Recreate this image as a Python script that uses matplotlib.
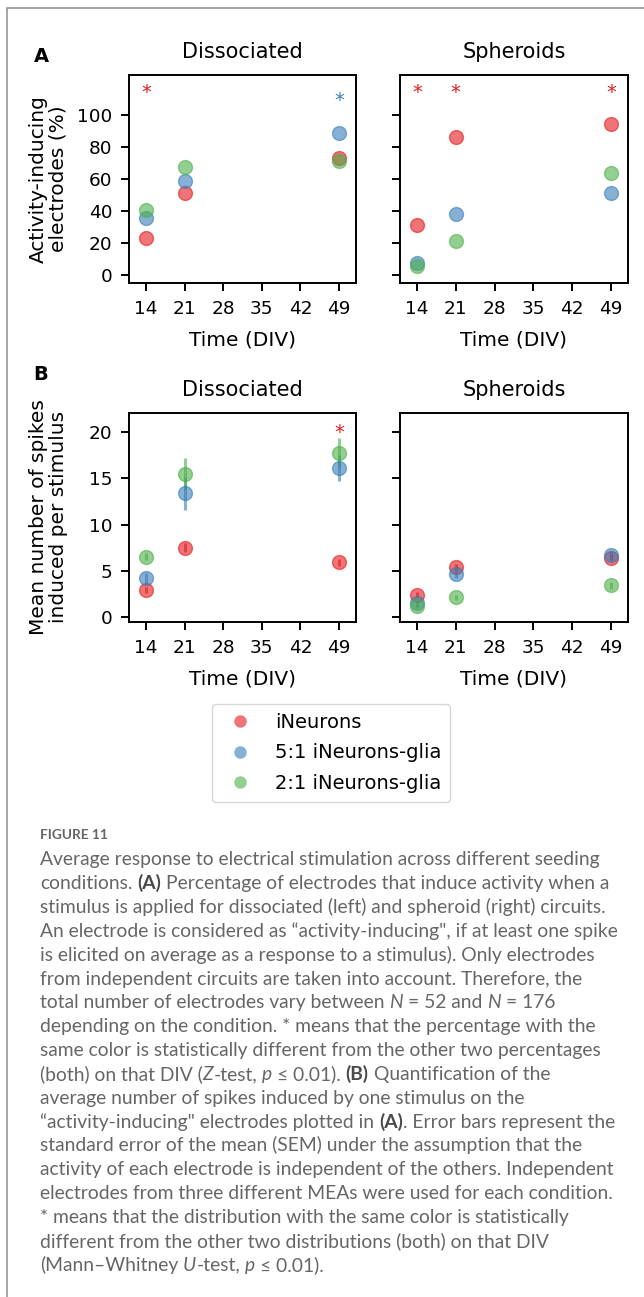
import matplotlib
matplotlib.use("Agg")
import matplotlib.pyplot as plt
from matplotlib.lines import Line2D
from matplotlib.patches import Rectangle

# ---------------- data ----------------
days = [14, 21, 49]
xticks = [14, 21, 28, 35, 42, 49]
group_names = ["iNeurons", "5:1 iNeurons-glia", "2:1 iNeurons-glia"]
group_colors = ["#e41a1c", "#377eb8", "#4daf4a"]

# Panel A: activity-inducing electrodes (%)
pct_diss_ineurons = [22.9, 51.3, 72.9]
pct_diss_5to1 = [35.4, 58.8, 88.8]
pct_diss_2to1 = [40.6, 67.3, 71.3]
pct_sph_ineurons = [31.3, 86.5, 94.2]
pct_sph_5to1 = [7.7, 38.3, 51.5]
pct_sph_2to1 = [5.8, 21.3, 63.5]

# Panel B: mean spikes per stimulus and SEM
spk_diss_ineurons = [2.9, 7.5, 5.9]
spk_diss_5to1 = [4.2, 13.4, 16.1]
spk_diss_2to1 = [6.5, 15.5, 17.8]
sem_diss_ineurons = [0.35, 0.45, 0.4]
sem_diss_5to1 = [0.5, 1.8, 1.4]
sem_diss_2to1 = [0.4, 1.7, 1.55]
spk_sph_ineurons = [2.4, 5.35, 6.4]
spk_sph_5to1 = [1.5, 4.6, 6.7]
spk_sph_2to1 = [1.15, 2.1, 3.4]
sem_sph_ineurons = [0.3, 0.35, 0.35]
sem_sph_5to1 = [0.3, 0.4, 0.4]
sem_sph_2to1 = [0.25, 0.3, 0.35]

# significance stars: (day, group index, y value)
stars_A_diss = [(14, 0, 116.7), (49, 1, 111.5)]
stars_A_sph = [(14, 0, 116.7), (21, 0, 116.7), (49, 0, 116.7)]
stars_B_diss = [(49, 0, 20.4)]
stars_B_sph = []

caption_title = "FIGURE 11"
caption_lines = [
    [("Average response to electrical stimulation across different seeding", "")],
    [("conditions. ", ""), ("(A)", "b"), (" Percentage of electrodes that induce activity when a", "")],
    [("stimulus is applied for dissociated (left) and spheroid (right) circuits.", "")],
    [("An electrode is considered as \u201cactivity-inducing\", if at least one spike", "")],
    [("is elicited on average as a response to a stimulus). Only electrodes", "")],
    [("from independent circuits are taken into account. Therefore, the", "")],
    [("total number of electrodes vary between ", ""), ("N", "i"), (" = 52 and ", ""), ("N", "i"), (" = 176", "")],
    [("depending on the condition. * means that the percentage with the", "")],
    [("same color is statistically different from the other two percentages", "")],
    [("(both) on that DIV (", ""), ("Z", "i"), ("-test, ", ""), ("p", "i"), (" \u2264 0.01). ", ""), ("(B)", "b"),
     (" Quantification of the", "")],
    [("average number of spikes induced by one stimulus on the", "")],
    [("\u201cactivity-inducing\" electrodes plotted in ", ""), ("(A)", "b"), (". Error bars represent the", "")],
    [("standard error of the mean (SEM) under the assumption that the", "")],
    [("activity of each electrode is independent of the others. Independent", "")],
    [("electrodes from three different MEAs were used for each condition.", "")],
    [("* means that the distribution with the same color is statistically", "")],
    [("different from the other two distributions (both) on that DIV", "")],
    [("(Mann\u2013Whitney ", ""), ("U", "i"), ("-test, ", ""), ("p", "i"), (" \u2264 0.01).", "")],
]

# ---------------- layout ----------------
W, H = 644, 1297
fig = plt.figure(figsize=(W / 100, H / 100), dpi=100)
plt.rcParams["font.family"] = ["DejaVu Sans"]


def fx(px):
    return px / W


def fy(py):
    return 1 - py / H


# frame
fig.patches.append(Rectangle((fx(7), fy(1400)), 1.2, fy(7.8) - fy(1400), transform=fig.transFigure,
                             fill=False, edgecolor="#8c8c8c", linewidth=1.1))

TICK_FS = 13.3
LAB_FS = 14.5
TITLE_FS = 15
ALPHA = 0.6
MS = 10


def make_axes(left, top, right, bottom):
    return fig.add_axes([fx(left), fy(bottom), fx(right) - fx(left), fy(top) - fy(bottom)])


axA1 = make_axes(129.4, 75, 355.6, 283)
axA2 = make_axes(400.4, 75, 627.5, 283)
axB1 = make_axes(129.4, 413, 355.6, 621.7)
axB2 = make_axes(400.4, 413, 627.5, 621.7)

pctA = [
    (axA1, [pct_diss_ineurons, pct_diss_5to1, pct_diss_2to1], stars_A_diss),
    (axA2, [pct_sph_ineurons, pct_sph_5to1, pct_sph_2to1], stars_A_sph),
]
for ax, series, stars in pctA:
    for vals, col, name in zip(series, group_colors, group_names):
        ax.plot(days, vals, "o", color=col, alpha=ALPHA, markersize=MS, label=name)
    ax.set_ylim(-5, 125)
    ax.set_yticks([0, 20, 40, 60, 80, 100])
    for d, gi, yv in stars:
        ax.annotate("*", (d, yv), xytext=(0, -6.8), textcoords="offset points",
                    ha="center", va="baseline", color=group_colors[gi], fontsize=14)

spkB = [
    (axB1, [spk_diss_ineurons, spk_diss_5to1, spk_diss_2to1],
     [sem_diss_ineurons, sem_diss_5to1, sem_diss_2to1], stars_B_diss),
    (axB2, [spk_sph_ineurons, spk_sph_5to1, spk_sph_2to1],
     [sem_sph_ineurons, sem_sph_5to1, sem_sph_2to1], stars_B_sph),
]
for ax, series, errs, stars in spkB:
    for vals, err, col in zip(series, errs, group_colors):
        ax.errorbar(days, vals, yerr=err, fmt="o", color=col, alpha=ALPHA, markersize=MS,
                    elinewidth=2.2, capsize=0)
    ax.set_ylim(-0.54, 22.1)
    ax.set_yticks([0, 5, 10, 15, 20])
    for d, gi, yv in stars:
        ax.annotate("*", (d, yv), xytext=(0, -6.8), textcoords="offset points",
                    ha="center", va="baseline", color=group_colors[gi], fontsize=14)

for ax in [axA1, axA2, axB1, axB2]:
    ax.set_xlim(11, 52)
    ax.set_xticks(xticks)
    ax.tick_params(axis="both", labelsize=TICK_FS, width=1.4, length=5.5)
    ax.tick_params(axis="x", pad=6.8)
    ax.tick_params(axis="y", pad=6.5)
    for sp in ax.spines.values():
        sp.set_linewidth(1.4)
    ax.set_xlabel("Time (DIV)", fontsize=LAB_FS, labelpad=9)

for ax in [axA2, axB2]:
    ax.tick_params(axis="y", labelleft=False)

for ax, title in [(axA1, "Dissociated"), (axA2, "Spheroids"), (axB1, "Dissociated"), (axB2, "Spheroids")]:
    ax.set_title(title, fontsize=TITLE_FS, pad=12)

fig.text(fx(48.5), fy(179), "Activity-inducing\nelectrodes (%)", rotation=90, ha="center", va="center",
         fontsize=LAB_FS, linespacing=1.05)
fig.text(fx(48.5), fy(517), "Mean number of spikes\ninduced per stimulus", rotation=90, ha="center",
         va="center", fontsize=LAB_FS, linespacing=1.05)

fig.text(fx(41), fy(56), "A", fontsize=14, weight="bold", ha="center", va="center")
fig.text(fx(41), fy(374), "B", fontsize=14, weight="bold", ha="center", va="center")

# legend
handles = [Line2D([], [], marker="o", linestyle="none", color=c, alpha=ALPHA, markersize=MS - 1,
                  markeredgewidth=0) for c in group_colors]
leg = fig.legend(handles, group_names, loc="center", bbox_to_anchor=(fx(331), fy(753)),
                 fontsize=14, handlelength=2.0, handletextpad=0.8, labelspacing=0.58,
                 borderpad=0.45, frameon=True)
leg.get_frame().set_edgecolor("#cccccc")

# caption
renderer = fig.canvas.get_renderer()
CAP_COL = "#666666"
CAP_FAM = ["Lato", "DejaVu Sans"]


def style_kw(kind, fs):
    kw = dict(family=CAP_FAM, fontsize=fs, color=CAP_COL, weight="normal", style="normal")
    if kind == "b":
        kw.update(weight="bold", color="#4a4a4a")
    elif kind == "i":
        kw.update(style="italic")
    return kw


def text_width(s, kind, fs):
    t = fig.text(0, 0, s, **style_kw(kind, fs))
    w = t.get_window_extent(renderer).width
    t.remove()
    return w


# scale caption font so the first line spans the same width as in the original (x 40 .. 601)
CAP_FS = 10 * 561 / text_width(caption_lines[0][0][0], "", 10)

fig.text(fx(40), fy(835), caption_title, fontsize=9.8, color="#666666", weight="bold",
         family=CAP_FAM, va="center", ha="left")

space_w = {k: text_width("x x", k, CAP_FS) - text_width("xx", k, CAP_FS) for k in ["", "b", "i"]}

y0 = 859.3 + 6
for i, segs in enumerate(caption_lines):
    x = 40.0
    yb = y0 + 23.85 * i
    for s, kind in segs:
        lead = len(s) - len(s.lstrip(" "))
        trail = len(s) - len(s.rstrip(" "))
        core = s.strip(" ")
        x += lead * space_w[kind]
        if core:
            t = fig.text(fx(x), fy(yb), core, ha="left", va="baseline", **style_kw(kind, CAP_FS))
            x += t.get_window_extent(renderer).width
        x += trail * space_w[kind]

fig.savefig("out.png", dpi=100)
